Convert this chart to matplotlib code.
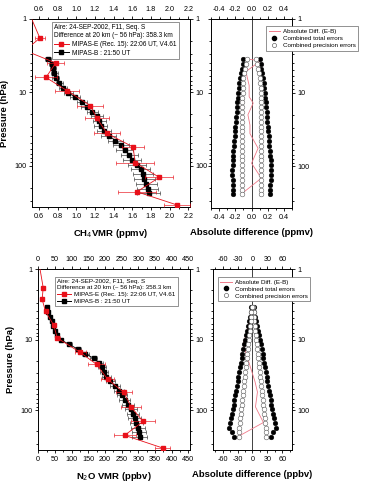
import matplotlib
matplotlib.use('Agg')
import matplotlib.pyplot as plt
from matplotlib.lines import Line2D
from matplotlib.ticker import FixedLocator, FixedFormatter, NullFormatter, LogLocator, MultipleLocator

plt.rcParams['font.family'] = ['Liberation Sans', 'DejaVu Sans']

# ---------------- data ----------------
# MIPAS-B pressure levels (hPa)
p_b = [3.5, 4.07, 4.73, 5.5, 6.4, 7.45, 8.66, 10.1, 11.7, 13.6, 15.8, 18.4, 21.4, 24.9,
       29.0, 33.7, 39.2, 45.6, 53.0, 61.7, 71.7, 83.4, 97.0, 112.8, 131, 153, 178, 207, 240]
# MIPAS-E pressure levels (hPa)
p_e = [0.75, 1.83, 2.7, 4.0, 6.3, 9.5, 15.2, 22.5, 36.5, 56, 91, 145, 228, 345]

# CH4 (ppmv)
ch4_b = [0.70, 0.735, 0.75, 0.765, 0.78, 0.82, 0.855, 0.915, 0.985, 1.06, 1.11, 1.17, 1.22, 1.245,
         1.26, 1.30, 1.35, 1.42, 1.48, 1.52, 1.57, 1.60, 1.65, 1.69, 1.715, 1.73, 1.75, 1.765, 1.775]
ch4_b_err = [0.03, 0.03, 0.035, 0.035, 0.04, 0.04, 0.045, 0.05, 0.05, 0.055, 0.06, 0.06, 0.065, 0.07,
             0.07, 0.075, 0.08, 0.08, 0.085, 0.09, 0.09, 0.095, 0.10, 0.10, 0.105, 0.11, 0.11, 0.115, 0.12]
ch4_e = [0.48, 0.61, 0.45, 0.78, 0.675, 0.90, 1.15, 1.22, 1.33, 1.61, 1.63, 1.89, 1.65, 2.08]
ch4_e_err = [0.04, 0.05, 0.06, 0.09, 0.12, 0.13, 0.14, 0.13, 0.14, 0.12, 0.20, 0.15, 0.20, 0.14]
ch4_total = [0.10, 0.11, 0.12, 0.13, 0.14, 0.15, 0.155, 0.165, 0.17, 0.175, 0.18, 0.185, 0.19, 0.195,
             0.20, 0.205, 0.21, 0.215, 0.22, 0.225, 0.23, 0.235, 0.235, 0.24, 0.24, 0.235, 0.23, 0.23, 0.225]
ch4_prec = [0.06, 0.07, 0.08, 0.09, 0.10, 0.105, 0.11, 0.11, 0.115, 0.115, 0.115, 0.115, 0.115, 0.115,
            0.115, 0.12, 0.12, 0.12, 0.12, 0.12, 0.12, 0.12, 0.12, 0.12, 0.12, 0.12, 0.12, 0.12, 0.12]
p_diff_ch4 = [3.5, 3.7, 5.2, 8.0, 11.4, 13.9, 20, 27.6, 36, 57, 91, 145, 235]
ch4_diff = [-0.065, 0.11, -0.07, -0.03, -0.03, 0.02, -0.045, -0.02, -0.02, 0.08, 0.0, 0.12, -0.12]

# N2O (ppbv)
n2o_b = [25, 29, 34, 40, 45, 50, 56, 68, 93, 118, 141, 166, 183, 190, 196, 204, 216, 230, 241,
         251, 259, 269, 277, 283, 289, 294, 299, 302, 304]
n2o_b_err = [3, 3, 4, 4, 5, 5, 6, 7, 8, 9, 10, 10, 11, 12, 12, 13, 14, 14, 15, 16, 16, 17, 18,
             18, 19, 20, 20, 21, 22]
n2o_e = [1, 15, 12, 22, 47, 57, 126, 175, 208, 256, 279, 314, 259, 373]
n2o_e_err = [1, 3, 3, 4, 6, 7, 16, 25, 20, 24, 30, 36, 33, 22]
n2o_total = [3, 4, 5, 7, 9, 12, 14, 16, 18, 20, 21, 22, 23.5, 25, 27, 28.5, 30, 31.5, 33, 35,
             36.5, 38, 40, 42, 44, 46, 47, 42, 38]
n2o_prec = [2, 2.5, 3, 4, 5, 6, 7, 8, 9, 10, 11, 12, 13, 14, 15, 16, 17, 18, 19, 20, 21, 22, 23,
            24, 25, 26, 27, 27.5, 28]
p_diff_n2o = [3.5, 4.0, 6.3, 9.6, 11.6, 39.4, 55.5, 90, 150, 231]
n2o_diff = [0, -3, -8, -15, -19, 5, 10, 6, 22, -26]

legend_title = 'Aire: 24-SEP-2002, F11, Seq. S\nDifference at 20 km (~ 56 hPa): 358.3 km'
label_e = 'MIPAS-E (Rec. 15): 22:06 UT, V4.61'
label_b = 'MIPAS-B : 21:50 UT'

RED = '#e8101a'
PINK = '#f07a8a'
TFS = 5.2
LFS = 6.8

fig = plt.figure(figsize=(3.67, 4.83), dpi=100)


def style_axis(ax, xlim, xmaj, xmin, xlabels_fmt, left_labels, right_labels):
    ax.set_yscale('log')
    ax.set_ylim(370, 1)
    ax.set_xlim(*xlim)
    ax.yaxis.set_major_locator(FixedLocator([1, 10, 100]))
    ax.yaxis.set_major_formatter(FixedFormatter(['1', '10', '100']))
    ax.yaxis.set_minor_locator(LogLocator(base=10, subs=[2, 3, 4, 5, 6, 7, 8, 9], numticks=20))
    ax.yaxis.set_minor_formatter(NullFormatter())
    ax.xaxis.set_major_locator(FixedLocator(xmaj))
    ax.xaxis.set_major_formatter(FixedFormatter([xlabels_fmt(v) for v in xmaj]))
    ax.xaxis.set_minor_locator(MultipleLocator(xmin))
    ax.tick_params(which='both', direction='out', top=True, right=True, left=True, bottom=True,
                   labeltop=True, labelbottom=True, labelleft=left_labels, labelright=right_labels,
                   labelsize=TFS, width=0.6, pad=1.5, colors='black')
    ax.tick_params(which='major', length=2.5)
    ax.tick_params(which='minor', length=1.5)
    for s in ax.spines.values():
        s.set_linewidth(0.7)


def profile_panel(ax, vals_b, err_b, vals_e, err_e, msz):
    ax.errorbar(vals_b, p_b, xerr=err_b, color='black', marker='s', ms=msz, lw=0.6,
                elinewidth=0.45, capsize=1.2, capthick=0.45, ecolor='#333333', zorder=3)
    ax.errorbar(vals_e, p_e, xerr=err_e, color=RED, marker='s', ms=msz, lw=0.6,
                elinewidth=0.45, capsize=1.2, capthick=0.45, ecolor=RED, zorder=4)
    handles = [Line2D([], [], color=RED, marker='s', ms=2.6, lw=0.7),
               Line2D([], [], color='black', marker='s', ms=2.6, lw=0.7)]
    return handles


def diff_panel(ax, p_d, d, tot, prec):
    ms = 3.4
    ax.axvline(0, color='#222222', lw=0.6, zorder=1)
    ax.plot(d, p_d, color=PINK, lw=0.6, zorder=2)
    ax.plot(tot, p_b, 'o', color='black', ms=ms, mec='black', mew=0.3, zorder=3)
    ax.plot([-v for v in tot], p_b, 'o', color='black', ms=ms, mec='black', mew=0.3, zorder=3)
    ax.plot(prec, p_b, 'o', mfc='white', mec='#444444', ms=ms, mew=0.35, zorder=4)
    ax.plot([-v for v in prec], p_b, 'o', mfc='white', mec='#444444', ms=ms, mew=0.35, zorder=4)
    handles = [Line2D([], [], color=PINK, lw=0.7),
               Line2D([], [], color='black', marker='o', ms=3.0, lw=0),
               Line2D([], [], mfc='white', mec='#444444', marker='o', ms=3.0, mew=0.4, lw=0)]
    labels = ['Absolute Diff. (E-B)', 'Combined total errors', 'Combined precision errors']
    return handles, labels


def fmt_dec(v):
    return ('%.1f' % v)


def fmt_int(v):
    return '%d' % v


def fmt_diff(v):
    s = '%.1f' % v
    return s


leg_kw = dict(frameon=True, fancybox=False, framealpha=1, edgecolor='#666666',
              borderpad=0.4, labelspacing=0.25, handletextpad=0.5, borderaxespad=0)

# ---------- top-left: CH4 profiles ----------
ax1 = fig.add_axes([0.087, 0.571, 0.431, 0.390])
style_axis(ax1, (0.525, 2.22), [0.6, 0.8, 1.0, 1.2, 1.4, 1.6, 1.8, 2.0, 2.2], 0.1, fmt_dec, True, True)
h = profile_panel(ax1, ch4_b, ch4_b_err, ch4_e, ch4_e_err, 2.9)
lg = ax1.legend(h, [label_e, label_b], title=legend_title, title_fontsize=4.7, fontsize=4.7,
                alignment='left', loc='upper left', bbox_to_anchor=(0.125, 0.985), handlelength=2.2,
                **leg_kw)
lg.get_frame().set_linewidth(0.5)
ax1.set_ylabel('Pressure (hPa)', fontsize=LFS, fontweight='bold', labelpad=4)
ax1.set_xlabel('CH$_4$VMR (ppmv)', fontsize=LFS, fontweight='bold', labelpad=5)

# ---------- top-right: CH4 differences ----------
ax2 = fig.add_axes([0.575, 0.569, 0.221, 0.392])
style_axis(ax2, (-0.5, 0.5), [-0.4, -0.2, 0.0, 0.2, 0.4], 0.1, fmt_diff, False, True)
h, l = diff_panel(ax2, p_diff_ch4, ch4_diff, ch4_total, ch4_prec)
lg = ax2.legend(h, l, loc='upper left', bbox_to_anchor=(0.68, 0.96), handlelength=1.8, fontsize=4.5,
                **leg_kw)
lg.get_frame().set_linewidth(0.5)
ax2.set_xlabel('Absolute difference (ppmv)', fontsize=LFS, fontweight='bold', labelpad=5)

# ---------- bottom-left: N2O profiles ----------
ax3 = fig.add_axes([0.104, 0.068, 0.414, 0.375])
style_axis(ax3, (0, 455), [0, 50, 100, 150, 200, 250, 300, 350, 400, 450], 25, fmt_int, True, True)
h = profile_panel(ax3, n2o_b, n2o_b_err, n2o_e, n2o_e_err, 2.9)
lg = ax3.legend(h, [label_e, label_b], title=legend_title, title_fontsize=4.5, fontsize=4.5,
                alignment='left', loc='upper left', bbox_to_anchor=(0.11, 0.957), handlelength=2.2,
                **leg_kw)
lg.get_frame().set_linewidth(0.5)
ax3.set_ylabel('Pressure (hPa)', fontsize=LFS, fontweight='bold', labelpad=4)
ax3.set_xlabel('N$_2$O VMR (ppbv)', fontsize=LFS, fontweight='bold', labelpad=5)

# ---------- bottom-right: N2O differences ----------
ax4 = fig.add_axes([0.580, 0.068, 0.216, 0.375])
style_axis(ax4, (-80, 80), [-60, -30, 0, 30, 60], 15, fmt_int, False, True)
h, l = diff_panel(ax4, p_diff_n2o, n2o_diff, n2o_total, n2o_prec)
lg = ax4.legend(h, l, loc='upper left', bbox_to_anchor=(0.063, 0.957), handlelength=1.8, fontsize=4.5,
                **leg_kw)
lg.get_frame().set_linewidth(0.5)
ax4.set_xlabel('Absolute difference (ppbv)', fontsize=LFS, fontweight='bold', labelpad=5)

fig.savefig('out.png', dpi=100)
